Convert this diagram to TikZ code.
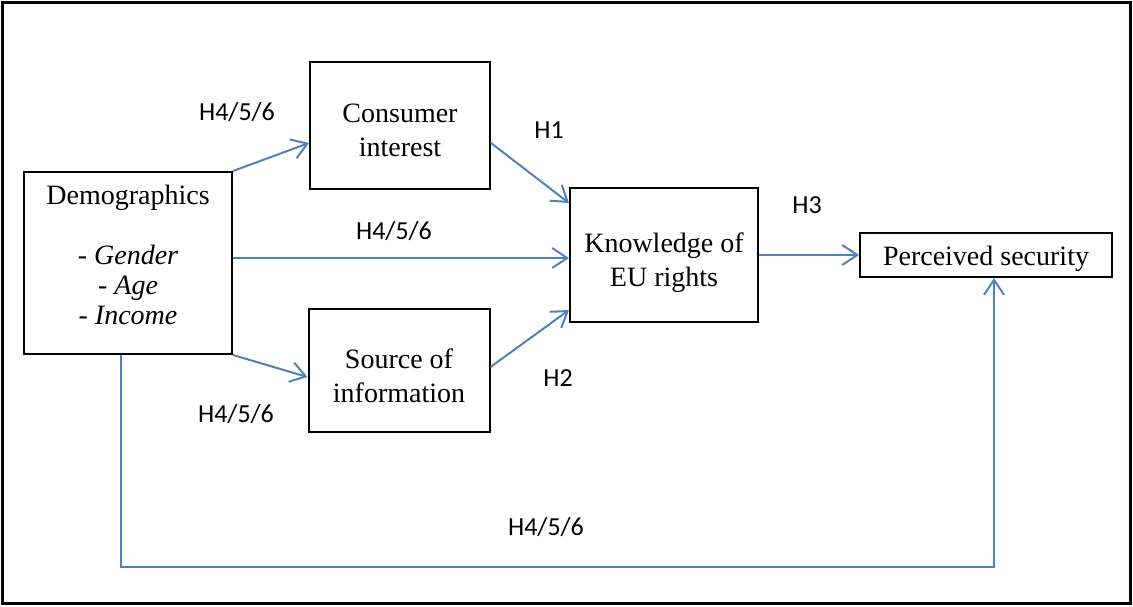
\documentclass[tikz,border=0pt]{standalone}
\usepackage{fontspec}
\setmainfont{Liberation Serif}
\newfontfamily\labfont{Carlito}
\usetikzlibrary{arrows.meta,calc}
\definecolor{linkblue}{RGB}{79,129,189}
\begin{document}
\begin{tikzpicture}[x=0.5pt,y=-0.5pt,
  box/.style={draw, line width=1pt, align=center, inner sep=0pt, font=\fontsize{14}{17}\selectfont},
  onebox/.style={box, execute at begin node={\rule{0pt}{13.5pt}}},
  arr/.style={linkblue, line width=1pt, -{Straight Barb[length=7.5pt,width=10pt]}},
  hyp/.style={font=\labfont\fontsize{13}{15}\selectfont}]
  \useasboundingbox (0,0) rectangle (1133,606);
  \draw[line width=1.5pt] (2.5,2.5) rectangle (1130.5,603.5);
  \node[box, font=\fontsize{14}{15}\selectfont, minimum width=104pt, minimum height=91pt] (dem) at (128,263) {Demographics\\[15pt] \textit{- Gender}\\ \textit{- Age}\\ \textit{- Income}\\[-7pt]};
  \node[box, minimum width=90pt, minimum height=63.5pt] (ci) at (400,125.5) {Consumer\\ interest\\[-22pt]};
  \node[box, minimum width=90.5pt, minimum height=61.5pt] (si) at (399,370.5) {Source of\\ information\\[-22pt]};
  \node[box, minimum width=94pt, minimum height=67pt] (kn) at (664,255) {Knowledge of\\ EU rights\\[-22pt]};
  \node[onebox, minimum width=126pt, minimum height=22pt] (ps) at (986,255) {Perceived security};
  \node[hyp] (h4a) at (237,112) {H4/5/6};
  \node[hyp] (h4b) at (394,231) {H4/5/6};
  \node[hyp] (h4c) at (236,414) {H4/5/6};
  \node[hyp] (h4d) at (546,527) {H4/5/6};
  \node[hyp] (h1) at (549,130) {H1};
  \node[hyp] (h2) at (558,378) {H2};
  \node[hyp] (h3) at (807,205) {H3};
  \coordinate (low) at (0,567);
  \coordinate (demout) at ([xshift=-3.5pt]dem.south);
  \coordinate (psin) at ([xshift=4pt]ps.south);
  \draw[arr] (dem.north east) -- ([yshift=-8.75pt]ci.west);
  \draw[arr] (dem.south east) -- ([yshift=-3.25pt]si.west);
  \draw[arr] ([yshift=-1.5pt]dem.east |- kn.west) -- ([yshift=-1.5pt]kn.west);
  \draw[arr] ([yshift=-8.75pt]ci.east) -- ([yshift=26pt]kn.west);
  \draw[arr] ([yshift=1.75pt]si.east) -- ([yshift=-27.5pt]kn.west);
  \draw[arr] (kn.east) -- (ps.west);
  \draw[arr] (demout) |- (psin |- low) -- (psin);
\end{tikzpicture}
\end{document}
